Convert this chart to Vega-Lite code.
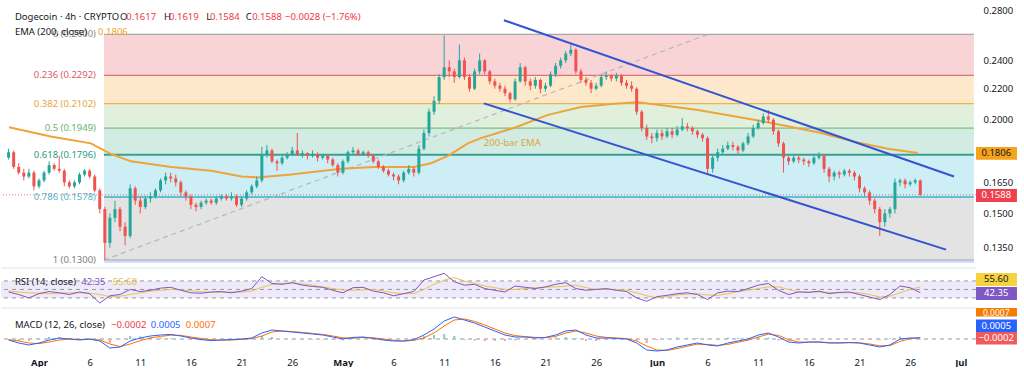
{
"$schema":"https://vega.github.io/schema/vega-lite/v6.json",
"padding":0,
"background":"#ffffff",
"spacing":2,
"config":{"font":"Noto Sans","view":{"stroke":null},"axis":{"grid":false,"domain":false,"ticks":false},"text":{"fontSize":9.5,"baseline":"middle","align":"left"}},
"datasets":{
"fib":[{"k":"0","p":0.26,"q":0.2292,"lab":"0 (0.2600)"},{"k":"0.236","p":0.2292,"q":0.2102,"lab":"0.236 (0.2292)"},{"k":"0.382","p":0.2102,"q":0.1949,"lab":"0.382 (0.2102)"},{"k":"0.5","p":0.1949,"q":0.1796,"lab":"0.5 (0.1949)"},{"k":"0.618","p":0.1796,"q":0.1578,"lab":"0.618 (0.1796)"},{"k":"0.786","p":0.1578,"q":0.13,"lab":"0.786 (0.1578)"},{"k":"1","p":0.13,"q":0.1288,"lab":"1 (0.1300)"}],
"ema":[{"t":"2025-03-29T01:00Z","v":0.1954},{"t":"2025-04-02T04:00Z","v":0.190},{"t":"2025-04-06T03:00Z","v":0.186},{"t":"2025-04-08T03:00Z","v":0.180},{"t":"2025-04-10T02:00Z","v":0.176},{"t":"2025-04-14T01:00Z","v":0.173},{"t":"2025-04-18T00:00Z","v":0.171},{"t":"2025-04-21T00:00Z","v":0.168},{"t":"2025-04-22T15:00Z","v":0.1675},{"t":"2025-04-25T21:00Z","v":0.169},{"t":"2025-04-30T19:00Z","v":0.172},{"t":"2025-05-04T02:00Z","v":0.173},{"t":"2025-05-08T00:00Z","v":0.173},{"t":"2025-05-09T17:00Z","v":0.175},{"t":"2025-05-11T09:00Z","v":0.179},{"t":"2025-05-13T08:00Z","v":0.186},{"t":"2025-05-14T15:00Z","v":0.189},{"t":"2025-05-17T21:00Z","v":0.195},{"t":"2025-05-21T06:00Z","v":0.203},{"t":"2025-05-24T12:00Z","v":0.208},{"t":"2025-05-27T18:00Z","v":0.210},{"t":"2025-05-30T03:00Z","v":0.211},{"t":"2025-06-01T17:00Z","v":0.209},{"t":"2025-06-05T01:00Z","v":0.206},{"t":"2025-06-07T08:00Z","v":0.2035},{"t":"2025-06-10T14:00Z","v":0.200},{"t":"2025-06-13T22:00Z","v":0.196},{"t":"2025-06-17T05:00Z","v":0.192},{"t":"2025-06-20T11:00Z","v":0.187},{"t":"2025-06-23T19:00Z","v":0.183},{"t":"2025-06-26T18:00Z","v":0.1806}],
"candles":[
{"t":"2025-03-29T00:00Z","o":0.178,"h":0.183,"l":0.177,"c":0.181},
{"t":"2025-03-29T12:00Z","o":0.181,"h":0.182,"l":0.172,"c":0.173},
{"t":"2025-03-30T00:00Z","o":0.173,"h":0.175,"l":0.169,"c":0.170},
{"t":"2025-03-30T12:00Z","o":0.170,"h":0.172,"l":0.166,"c":0.168},
{"t":"2025-03-31T00:00Z","o":0.168,"h":0.172,"l":0.167,"c":0.170},
{"t":"2025-03-31T12:00Z","o":0.170,"h":0.171,"l":0.161,"c":0.163},
{"t":"2025-04-01T00:00Z","o":0.163,"h":0.167,"l":0.162,"c":0.166},
{"t":"2025-04-01T12:00Z","o":0.166,"h":0.171,"l":0.165,"c":0.170},
{"t":"2025-04-02T00:00Z","o":0.170,"h":0.176,"l":0.169,"c":0.174},
{"t":"2025-04-02T12:00Z","o":0.174,"h":0.175,"l":0.171,"c":0.172},
{"t":"2025-04-03T00:00Z","o":0.172,"h":0.179,"l":0.170,"c":0.171},
{"t":"2025-04-03T12:00Z","o":0.171,"h":0.172,"l":0.163,"c":0.165},
{"t":"2025-04-04T00:00Z","o":0.165,"h":0.166,"l":0.162,"c":0.163},
{"t":"2025-04-04T12:00Z","o":0.163,"h":0.166,"l":0.162,"c":0.165},
{"t":"2025-04-05T00:00Z","o":0.165,"h":0.170,"l":0.164,"c":0.169},
{"t":"2025-04-05T12:00Z","o":0.169,"h":0.172,"l":0.168,"c":0.171},
{"t":"2025-04-06T00:00Z","o":0.171,"h":0.172,"l":0.167,"c":0.168},
{"t":"2025-04-06T12:00Z","o":0.168,"h":0.169,"l":0.160,"c":0.161},
{"t":"2025-04-07T00:00Z","o":0.161,"h":0.162,"l":0.150,"c":0.152},
{"t":"2025-04-07T12:00Z","o":0.152,"h":0.153,"l":0.130,"c":0.137},
{"t":"2025-04-08T00:00Z","o":0.137,"h":0.150,"l":0.135,"c":0.148},
{"t":"2025-04-08T12:00Z","o":0.148,"h":0.156,"l":0.146,"c":0.152},
{"t":"2025-04-09T00:00Z","o":0.152,"h":0.153,"l":0.142,"c":0.144},
{"t":"2025-04-09T12:00Z","o":0.144,"h":0.146,"l":0.136,"c":0.140},
{"t":"2025-04-10T00:00Z","o":0.140,"h":0.164,"l":0.139,"c":0.162},
{"t":"2025-04-10T12:00Z","o":0.162,"h":0.163,"l":0.154,"c":0.156},
{"t":"2025-04-11T00:00Z","o":0.156,"h":0.158,"l":0.150,"c":0.153},
{"t":"2025-04-11T12:00Z","o":0.153,"h":0.158,"l":0.152,"c":0.157},
{"t":"2025-04-12T00:00Z","o":0.157,"h":0.160,"l":0.155,"c":0.158},
{"t":"2025-04-12T12:00Z","o":0.158,"h":0.162,"l":0.157,"c":0.161},
{"t":"2025-04-13T00:00Z","o":0.161,"h":0.167,"l":0.160,"c":0.166},
{"t":"2025-04-13T12:00Z","o":0.166,"h":0.170,"l":0.164,"c":0.168},
{"t":"2025-04-14T00:00Z","o":0.168,"h":0.170,"l":0.165,"c":0.167},
{"t":"2025-04-14T12:00Z","o":0.167,"h":0.169,"l":0.163,"c":0.165},
{"t":"2025-04-15T00:00Z","o":0.165,"h":0.166,"l":0.158,"c":0.160},
{"t":"2025-04-15T12:00Z","o":0.160,"h":0.161,"l":0.156,"c":0.158},
{"t":"2025-04-16T00:00Z","o":0.158,"h":0.159,"l":0.152,"c":0.154},
{"t":"2025-04-16T12:00Z","o":0.154,"h":0.155,"l":0.151,"c":0.153},
{"t":"2025-04-17T00:00Z","o":0.153,"h":0.156,"l":0.152,"c":0.155},
{"t":"2025-04-17T12:00Z","o":0.155,"h":0.157,"l":0.154,"c":0.156},
{"t":"2025-04-18T00:00Z","o":0.156,"h":0.157,"l":0.154,"c":0.155},
{"t":"2025-04-18T12:00Z","o":0.155,"h":0.158,"l":0.154,"c":0.157},
{"t":"2025-04-19T00:00Z","o":0.157,"h":0.159,"l":0.156,"c":0.158},
{"t":"2025-04-19T12:00Z","o":0.158,"h":0.159,"l":0.156,"c":0.157},
{"t":"2025-04-20T00:00Z","o":0.157,"h":0.160,"l":0.156,"c":0.158},
{"t":"2025-04-20T12:00Z","o":0.158,"h":0.159,"l":0.153,"c":0.154},
{"t":"2025-04-21T00:00Z","o":0.154,"h":0.158,"l":0.153,"c":0.157},
{"t":"2025-04-21T12:00Z","o":0.157,"h":0.161,"l":0.156,"c":0.160},
{"t":"2025-04-22T00:00Z","o":0.160,"h":0.164,"l":0.159,"c":0.163},
{"t":"2025-04-22T12:00Z","o":0.163,"h":0.168,"l":0.162,"c":0.166},
{"t":"2025-04-23T00:00Z","o":0.166,"h":0.184,"l":0.165,"c":0.180},
{"t":"2025-04-23T12:00Z","o":0.180,"h":0.185,"l":0.178,"c":0.182},
{"t":"2025-04-24T00:00Z","o":0.182,"h":0.183,"l":0.175,"c":0.176},
{"t":"2025-04-24T12:00Z","o":0.176,"h":0.177,"l":0.171,"c":0.175},
{"t":"2025-04-25T00:00Z","o":0.175,"h":0.179,"l":0.174,"c":0.178},
{"t":"2025-04-25T12:00Z","o":0.178,"h":0.181,"l":0.177,"c":0.180},
{"t":"2025-04-26T00:00Z","o":0.180,"h":0.184,"l":0.179,"c":0.182},
{"t":"2025-04-26T12:00Z","o":0.182,"h":0.192,"l":0.179,"c":0.180},
{"t":"2025-04-27T00:00Z","o":0.180,"h":0.182,"l":0.178,"c":0.1805},
{"t":"2025-04-27T12:00Z","o":0.1805,"h":0.181,"l":0.177,"c":0.179},
{"t":"2025-04-28T00:00Z","o":0.179,"h":0.182,"l":0.178,"c":0.180},
{"t":"2025-04-28T12:00Z","o":0.180,"h":0.181,"l":0.176,"c":0.178},
{"t":"2025-04-29T00:00Z","o":0.178,"h":0.180,"l":0.177,"c":0.179},
{"t":"2025-04-29T12:00Z","o":0.179,"h":0.180,"l":0.175,"c":0.177},
{"t":"2025-04-30T00:00Z","o":0.177,"h":0.178,"l":0.173,"c":0.174},
{"t":"2025-04-30T12:00Z","o":0.174,"h":0.175,"l":0.168,"c":0.170},
{"t":"2025-05-01T00:00Z","o":0.170,"h":0.177,"l":0.169,"c":0.176},
{"t":"2025-05-01T12:00Z","o":0.176,"h":0.182,"l":0.175,"c":0.181},
{"t":"2025-05-02T00:00Z","o":0.181,"h":0.184,"l":0.180,"c":0.182},
{"t":"2025-05-02T12:00Z","o":0.182,"h":0.183,"l":0.179,"c":0.180},
{"t":"2025-05-03T00:00Z","o":0.180,"h":0.182,"l":0.179,"c":0.181},
{"t":"2025-05-03T12:00Z","o":0.181,"h":0.182,"l":0.178,"c":0.179},
{"t":"2025-05-04T00:00Z","o":0.179,"h":0.180,"l":0.175,"c":0.176},
{"t":"2025-05-04T12:00Z","o":0.176,"h":0.177,"l":0.172,"c":0.173},
{"t":"2025-05-05T00:00Z","o":0.173,"h":0.174,"l":0.170,"c":0.171},
{"t":"2025-05-05T12:00Z","o":0.171,"h":0.172,"l":0.168,"c":0.169},
{"t":"2025-05-06T00:00Z","o":0.169,"h":0.170,"l":0.166,"c":0.168},
{"t":"2025-05-06T12:00Z","o":0.168,"h":0.169,"l":0.164,"c":0.166},
{"t":"2025-05-07T00:00Z","o":0.166,"h":0.171,"l":0.165,"c":0.170},
{"t":"2025-05-07T12:00Z","o":0.170,"h":0.174,"l":0.169,"c":0.172},
{"t":"2025-05-08T00:00Z","o":0.172,"h":0.173,"l":0.168,"c":0.170},
{"t":"2025-05-08T12:00Z","o":0.170,"h":0.185,"l":0.169,"c":0.183},
{"t":"2025-05-09T00:00Z","o":0.183,"h":0.194,"l":0.182,"c":0.192},
{"t":"2025-05-09T12:00Z","o":0.192,"h":0.207,"l":0.190,"c":0.205},
{"t":"2025-05-10T00:00Z","o":0.205,"h":0.215,"l":0.203,"c":0.212},
{"t":"2025-05-10T12:00Z","o":0.212,"h":0.230,"l":0.210,"c":0.228},
{"t":"2025-05-11T00:00Z","o":0.228,"h":0.259,"l":0.226,"c":0.235},
{"t":"2025-05-11T12:00Z","o":0.235,"h":0.240,"l":0.228,"c":0.232},
{"t":"2025-05-12T00:00Z","o":0.232,"h":0.234,"l":0.224,"c":0.228},
{"t":"2025-05-12T12:00Z","o":0.228,"h":0.252,"l":0.227,"c":0.240},
{"t":"2025-05-13T00:00Z","o":0.240,"h":0.242,"l":0.226,"c":0.228},
{"t":"2025-05-13T12:00Z","o":0.228,"h":0.230,"l":0.218,"c":0.220},
{"t":"2025-05-14T00:00Z","o":0.220,"h":0.234,"l":0.219,"c":0.232},
{"t":"2025-05-14T12:00Z","o":0.232,"h":0.245,"l":0.230,"c":0.240},
{"t":"2025-05-15T00:00Z","o":0.240,"h":0.241,"l":0.230,"c":0.232},
{"t":"2025-05-15T12:00Z","o":0.232,"h":0.233,"l":0.223,"c":0.225},
{"t":"2025-05-16T00:00Z","o":0.225,"h":0.227,"l":0.220,"c":0.222},
{"t":"2025-05-16T12:00Z","o":0.222,"h":0.224,"l":0.218,"c":0.220},
{"t":"2025-05-17T00:00Z","o":0.220,"h":0.222,"l":0.215,"c":0.217},
{"t":"2025-05-17T12:00Z","o":0.217,"h":0.218,"l":0.211,"c":0.213},
{"t":"2025-05-18T00:00Z","o":0.213,"h":0.227,"l":0.212,"c":0.225},
{"t":"2025-05-18T12:00Z","o":0.225,"h":0.238,"l":0.224,"c":0.235},
{"t":"2025-05-19T00:00Z","o":0.235,"h":0.236,"l":0.222,"c":0.225},
{"t":"2025-05-19T12:00Z","o":0.225,"h":0.227,"l":0.219,"c":0.222},
{"t":"2025-05-20T00:00Z","o":0.222,"h":0.228,"l":0.220,"c":0.226},
{"t":"2025-05-20T12:00Z","o":0.226,"h":0.227,"l":0.217,"c":0.220},
{"t":"2025-05-21T00:00Z","o":0.220,"h":0.224,"l":0.218,"c":0.222},
{"t":"2025-05-21T12:00Z","o":0.222,"h":0.232,"l":0.221,"c":0.230},
{"t":"2025-05-22T00:00Z","o":0.230,"h":0.238,"l":0.228,"c":0.236},
{"t":"2025-05-22T12:00Z","o":0.236,"h":0.242,"l":0.234,"c":0.240},
{"t":"2025-05-23T00:00Z","o":0.240,"h":0.247,"l":0.238,"c":0.245},
{"t":"2025-05-23T12:00Z","o":0.245,"h":0.252,"l":0.243,"c":0.248},
{"t":"2025-05-24T00:00Z","o":0.248,"h":0.249,"l":0.230,"c":0.232},
{"t":"2025-05-24T12:00Z","o":0.232,"h":0.234,"l":0.224,"c":0.226},
{"t":"2025-05-25T00:00Z","o":0.226,"h":0.228,"l":0.222,"c":0.224},
{"t":"2025-05-25T12:00Z","o":0.224,"h":0.226,"l":0.217,"c":0.220},
{"t":"2025-05-26T00:00Z","o":0.220,"h":0.224,"l":0.219,"c":0.222},
{"t":"2025-05-26T12:00Z","o":0.222,"h":0.230,"l":0.221,"c":0.228},
{"t":"2025-05-27T00:00Z","o":0.228,"h":0.232,"l":0.226,"c":0.229},
{"t":"2025-05-27T12:00Z","o":0.229,"h":0.230,"l":0.225,"c":0.227},
{"t":"2025-05-28T00:00Z","o":0.227,"h":0.231,"l":0.225,"c":0.229},
{"t":"2025-05-28T12:00Z","o":0.229,"h":0.230,"l":0.222,"c":0.224},
{"t":"2025-05-29T00:00Z","o":0.224,"h":0.226,"l":0.220,"c":0.222},
{"t":"2025-05-29T12:00Z","o":0.222,"h":0.225,"l":0.218,"c":0.220},
{"t":"2025-05-30T00:00Z","o":0.220,"h":0.221,"l":0.203,"c":0.205},
{"t":"2025-05-30T12:00Z","o":0.205,"h":0.206,"l":0.193,"c":0.195},
{"t":"2025-05-31T00:00Z","o":0.195,"h":0.197,"l":0.188,"c":0.190},
{"t":"2025-05-31T12:00Z","o":0.190,"h":0.192,"l":0.186,"c":0.189},
{"t":"2025-06-01T00:00Z","o":0.189,"h":0.194,"l":0.187,"c":0.192},
{"t":"2025-06-01T12:00Z","o":0.192,"h":0.194,"l":0.188,"c":0.190},
{"t":"2025-06-02T00:00Z","o":0.190,"h":0.195,"l":0.189,"c":0.193},
{"t":"2025-06-02T12:00Z","o":0.193,"h":0.195,"l":0.189,"c":0.191},
{"t":"2025-06-03T00:00Z","o":0.191,"h":0.196,"l":0.190,"c":0.194},
{"t":"2025-06-03T12:00Z","o":0.194,"h":0.201,"l":0.193,"c":0.196},
{"t":"2025-06-04T00:00Z","o":0.196,"h":0.198,"l":0.193,"c":0.195},
{"t":"2025-06-04T12:00Z","o":0.195,"h":0.196,"l":0.191,"c":0.193},
{"t":"2025-06-05T00:00Z","o":0.193,"h":0.194,"l":0.189,"c":0.191},
{"t":"2025-06-05T12:00Z","o":0.191,"h":0.192,"l":0.187,"c":0.189},
{"t":"2025-06-06T00:00Z","o":0.189,"h":0.190,"l":0.169,"c":0.172},
{"t":"2025-06-06T12:00Z","o":0.172,"h":0.179,"l":0.170,"c":0.178},
{"t":"2025-06-07T00:00Z","o":0.178,"h":0.183,"l":0.176,"c":0.181},
{"t":"2025-06-07T12:00Z","o":0.181,"h":0.185,"l":0.180,"c":0.183},
{"t":"2025-06-08T00:00Z","o":0.183,"h":0.187,"l":0.182,"c":0.185},
{"t":"2025-06-08T12:00Z","o":0.185,"h":0.187,"l":0.182,"c":0.184},
{"t":"2025-06-09T00:00Z","o":0.184,"h":0.185,"l":0.180,"c":0.182},
{"t":"2025-06-09T12:00Z","o":0.182,"h":0.187,"l":0.181,"c":0.186},
{"t":"2025-06-10T00:00Z","o":0.186,"h":0.192,"l":0.185,"c":0.190},
{"t":"2025-06-10T12:00Z","o":0.190,"h":0.197,"l":0.189,"c":0.195},
{"t":"2025-06-11T00:00Z","o":0.195,"h":0.200,"l":0.194,"c":0.198},
{"t":"2025-06-11T12:00Z","o":0.198,"h":0.204,"l":0.197,"c":0.202},
{"t":"2025-06-12T00:00Z","o":0.202,"h":0.206,"l":0.198,"c":0.200},
{"t":"2025-06-12T12:00Z","o":0.200,"h":0.201,"l":0.191,"c":0.193},
{"t":"2025-06-13T00:00Z","o":0.193,"h":0.194,"l":0.184,"c":0.186},
{"t":"2025-06-13T12:00Z","o":0.186,"h":0.187,"l":0.170,"c":0.178},
{"t":"2025-06-14T00:00Z","o":0.178,"h":0.179,"l":0.174,"c":0.176},
{"t":"2025-06-14T12:00Z","o":0.176,"h":0.180,"l":0.175,"c":0.178},
{"t":"2025-06-15T00:00Z","o":0.178,"h":0.179,"l":0.175,"c":0.177},
{"t":"2025-06-15T12:00Z","o":0.177,"h":0.178,"l":0.174,"c":0.176},
{"t":"2025-06-16T00:00Z","o":0.176,"h":0.177,"l":0.173,"c":0.175},
{"t":"2025-06-16T12:00Z","o":0.175,"h":0.179,"l":0.174,"c":0.178},
{"t":"2025-06-17T00:00Z","o":0.178,"h":0.181,"l":0.177,"c":0.179},
{"t":"2025-06-17T12:00Z","o":0.179,"h":0.180,"l":0.170,"c":0.172},
{"t":"2025-06-18T00:00Z","o":0.172,"h":0.173,"l":0.165,"c":0.168},
{"t":"2025-06-18T12:00Z","o":0.168,"h":0.171,"l":0.166,"c":0.170},
{"t":"2025-06-19T00:00Z","o":0.170,"h":0.171,"l":0.167,"c":0.169},
{"t":"2025-06-19T12:00Z","o":0.169,"h":0.172,"l":0.168,"c":0.171},
{"t":"2025-06-20T00:00Z","o":0.171,"h":0.172,"l":0.168,"c":0.170},
{"t":"2025-06-20T12:00Z","o":0.170,"h":0.171,"l":0.166,"c":0.168},
{"t":"2025-06-21T00:00Z","o":0.168,"h":0.169,"l":0.160,"c":0.162},
{"t":"2025-06-21T12:00Z","o":0.162,"h":0.163,"l":0.158,"c":0.160},
{"t":"2025-06-22T00:00Z","o":0.160,"h":0.161,"l":0.154,"c":0.156},
{"t":"2025-06-22T12:00Z","o":0.156,"h":0.157,"l":0.150,"c":0.152},
{"t":"2025-06-23T00:00Z","o":0.152,"h":0.153,"l":0.140,"c":0.146},
{"t":"2025-06-23T12:00Z","o":0.146,"h":0.152,"l":0.144,"c":0.150},
{"t":"2025-06-24T00:00Z","o":0.150,"h":0.153,"l":0.148,"c":0.152},
{"t":"2025-06-24T12:00Z","o":0.152,"h":0.167,"l":0.150,"c":0.165},
{"t":"2025-06-25T00:00Z","o":0.165,"h":0.167,"l":0.163,"c":0.166},
{"t":"2025-06-25T12:00Z","o":0.166,"h":0.167,"l":0.162,"c":0.164},
{"t":"2025-06-26T00:00Z","o":0.164,"h":0.166,"l":0.163,"c":0.165},
{"t":"2025-06-26T12:00Z","o":0.165,"h":0.167,"l":0.164,"c":0.166},
{"t":"2025-06-27T00:00Z","o":0.166,"h":0.1665,"l":0.1584,"c":0.1588}],
"ind":[
{"t":"2025-03-29T00:00Z","r":44,"ra":46,"m":-0.0005,"s":-0.0003,"h":-0.0002},
{"t":"2025-03-30T00:00Z","r":38,"ra":44,"m":-0.002,"s":-0.001,"h":-0.001},
{"t":"2025-03-31T00:00Z","r":30,"ra":42,"m":-0.003,"s":-0.002,"h":-0.001},
{"t":"2025-04-01T00:00Z","r":40,"ra":41,"m":-0.002,"s":-0.0023,"h":0.0003},
{"t":"2025-04-02T00:00Z","r":45,"ra":40,"m":-0.0005,"s":-0.0015,"h":0.001},
{"t":"2025-04-03T00:00Z","r":42,"ra":41,"m":0.0005,"s":-0.0005,"h":0.001},
{"t":"2025-04-04T00:00Z","r":38,"ra":42,"m":0,"s":0,"h":0},
{"t":"2025-04-05T00:00Z","r":44,"ra":42,"m":-0.0005,"s":-0.0002,"h":-0.0003},
{"t":"2025-04-06T00:00Z","r":40,"ra":41,"m":0,"s":-0.0002,"h":0.0002},
{"t":"2025-04-07T00:00Z","r":18,"ra":38,"m":-0.001,"s":-0.0005,"h":-0.0005},
{"t":"2025-04-08T00:00Z","r":35,"ra":33,"m":-0.0045,"s":-0.0025,"h":-0.002},
{"t":"2025-04-09T00:00Z","r":38,"ra":34,"m":-0.004,"s":-0.0038,"h":-0.0002},
{"t":"2025-04-10T00:00Z","r":50,"ra":38,"m":-0.001,"s":-0.0025,"h":0.0015},
{"t":"2025-04-11T00:00Z","r":45,"ra":42,"m":0.0005,"s":-0.0008,"h":0.0013},
{"t":"2025-04-12T00:00Z","r":48,"ra":46,"m":0.0015,"s":0.0005,"h":0.001},
{"t":"2025-04-13T00:00Z","r":53,"ra":48,"m":0.002,"s":0.0013,"h":0.0007},
{"t":"2025-04-14T00:00Z","r":55,"ra":50,"m":0.0023,"s":0.0019,"h":0.0004},
{"t":"2025-04-15T00:00Z","r":48,"ra":49,"m":0.0015,"s":0.0018,"h":-0.0003},
{"t":"2025-04-16T00:00Z","r":42,"ra":47,"m":0.0005,"s":0.001,"h":-0.0005},
{"t":"2025-04-17T00:00Z","r":41,"ra":45,"m":-0.0003,"s":0.0003,"h":-0.0006},
{"t":"2025-04-18T00:00Z","r":44,"ra":43,"m":-0.0008,"s":-0.0004,"h":-0.0004},
{"t":"2025-04-19T00:00Z","r":45,"ra":43,"m":-0.0005,"s":-0.0006,"h":0.0001},
{"t":"2025-04-20T00:00Z","r":42,"ra":44,"m":-0.0003,"s":-0.0005,"h":0.0002},
{"t":"2025-04-21T00:00Z","r":46,"ra":44,"m":0,"s":-0.0002,"h":0.0002},
{"t":"2025-04-22T00:00Z","r":52,"ra":46,"m":0.0005,"s":0.0002,"h":0.0003},
{"t":"2025-04-23T00:00Z","r":80,"ra":55,"m":0.003,"s":0.0015,"h":0.0015},
{"t":"2025-04-24T00:00Z","r":64,"ra":62,"m":0.0045,"s":0.0035,"h":0.001},
{"t":"2025-04-25T00:00Z","r":62,"ra":64,"m":0.004,"s":0.004,"h":0},
{"t":"2025-04-26T00:00Z","r":66,"ra":65,"m":0.0035,"s":0.0037,"h":-0.0002},
{"t":"2025-04-27T00:00Z","r":60,"ra":63,"m":0.003,"s":0.0033,"h":-0.0003},
{"t":"2025-04-28T00:00Z","r":57,"ra":60,"m":0.0025,"s":0.0028,"h":-0.0003},
{"t":"2025-04-29T00:00Z","r":55,"ra":56,"m":0.002,"s":0.0023,"h":-0.0003},
{"t":"2025-04-30T00:00Z","r":48,"ra":52,"m":0.001,"s":0.0015,"h":-0.0005},
{"t":"2025-05-01T00:00Z","r":42,"ra":49,"m":0,"s":0.0006,"h":-0.0006},
{"t":"2025-05-02T00:00Z","r":54,"ra":48,"m":0.0008,"s":0.0004,"h":0.0004},
{"t":"2025-05-03T00:00Z","r":55,"ra":49,"m":0.001,"s":0.0008,"h":0.0002},
{"t":"2025-05-04T00:00Z","r":46,"ra":50,"m":0.0003,"s":0.0006,"h":-0.0003},
{"t":"2025-05-05T00:00Z","r":42,"ra":46,"m":-0.0005,"s":0,"h":-0.0005},
{"t":"2025-05-06T00:00Z","r":35,"ra":42,"m":-0.001,"s":-0.0007,"h":-0.0003},
{"t":"2025-05-07T00:00Z","r":40,"ra":40,"m":-0.001,"s":-0.001,"h":0},
{"t":"2025-05-08T00:00Z","r":45,"ra":40,"m":-0.0003,"s":-0.0007,"h":0.0004},
{"t":"2025-05-09T00:00Z","r":72,"ra":50,"m":0.002,"s":0.0006,"h":0.0014},
{"t":"2025-05-10T00:00Z","r":80,"ra":62,"m":0.005,"s":0.003,"h":0.002},
{"t":"2025-05-11T00:00Z","r":88,"ra":72,"m":0.009,"s":0.0065,"h":0.0025},
{"t":"2025-05-12T00:00Z","r":68,"ra":78,"m":0.011,"s":0.0095,"h":0.0015},
{"t":"2025-05-13T00:00Z","r":60,"ra":70,"m":0.0095,"s":0.01,"h":-0.0005},
{"t":"2025-05-14T00:00Z","r":62,"ra":64,"m":0.008,"s":0.0088,"h":-0.0008},
{"t":"2025-05-15T00:00Z","r":52,"ra":58,"m":0.006,"s":0.007,"h":-0.001},
{"t":"2025-05-16T00:00Z","r":48,"ra":54,"m":0.004,"s":0.005,"h":-0.001},
{"t":"2025-05-17T00:00Z","r":44,"ra":50,"m":0.002,"s":0.003,"h":-0.001},
{"t":"2025-05-18T00:00Z","r":58,"ra":50,"m":0.001,"s":0.0017,"h":-0.0007},
{"t":"2025-05-19T00:00Z","r":55,"ra":52,"m":0.001,"s":0.0012,"h":-0.0002},
{"t":"2025-05-20T00:00Z","r":52,"ra":54,"m":0.0005,"s":0.0008,"h":-0.0003},
{"t":"2025-05-21T00:00Z","r":56,"ra":55,"m":0.0008,"s":0.0007,"h":0.0001},
{"t":"2025-05-22T00:00Z","r":62,"ra":56,"m":0.002,"s":0.0013,"h":0.0007},
{"t":"2025-05-23T00:00Z","r":66,"ra":58,"m":0.004,"s":0.003,"h":0.001},
{"t":"2025-05-24T00:00Z","r":52,"ra":60,"m":0.0045,"s":0.004,"h":0.0005},
{"t":"2025-05-25T00:00Z","r":48,"ra":54,"m":0.002,"s":0.003,"h":-0.001},
{"t":"2025-05-26T00:00Z","r":50,"ra":50,"m":0.0005,"s":0.0015,"h":-0.001},
{"t":"2025-05-27T00:00Z","r":52,"ra":50,"m":0.0005,"s":0.0008,"h":-0.0003},
{"t":"2025-05-28T00:00Z","r":48,"ra":50,"m":0.0003,"s":0.0005,"h":-0.0002},
{"t":"2025-05-29T00:00Z","r":45,"ra":48,"m":0,"s":0.0002,"h":-0.0002},
{"t":"2025-05-30T00:00Z","r":30,"ra":42,"m":-0.002,"s":-0.001,"h":-0.001},
{"t":"2025-05-31T00:00Z","r":22,"ra":35,"m":-0.0055,"s":-0.0035,"h":-0.002},
{"t":"2025-06-01T00:00Z","r":33,"ra":30,"m":-0.006,"s":-0.0055,"h":-0.0005},
{"t":"2025-06-02T00:00Z","r":36,"ra":33,"m":-0.0055,"s":-0.0057,"h":0.0002},
{"t":"2025-06-03T00:00Z","r":40,"ra":37,"m":-0.004,"s":-0.0048,"h":0.0008},
{"t":"2025-06-04T00:00Z","r":42,"ra":39,"m":-0.003,"s":-0.0036,"h":0.0006},
{"t":"2025-06-05T00:00Z","r":38,"ra":40,"m":-0.002,"s":-0.0026,"h":0.0006},
{"t":"2025-06-06T00:00Z","r":26,"ra":37,"m":-0.003,"s":-0.0027,"h":-0.0003},
{"t":"2025-06-07T00:00Z","r":42,"ra":36,"m":-0.0035,"s":-0.0032,"h":-0.0003},
{"t":"2025-06-08T00:00Z","r":46,"ra":40,"m":-0.002,"s":-0.0027,"h":0.0007},
{"t":"2025-06-09T00:00Z","r":45,"ra":45,"m":-0.001,"s":-0.0016,"h":0.0006},
{"t":"2025-06-10T00:00Z","r":52,"ra":48,"m":0,"s":-0.0006,"h":0.0006},
{"t":"2025-06-11T00:00Z","r":60,"ra":52,"m":0.002,"s":0.001,"h":0.001},
{"t":"2025-06-12T00:00Z","r":64,"ra":56,"m":0.003,"s":0.0024,"h":0.0006},
{"t":"2025-06-13T00:00Z","r":48,"ra":56,"m":0.001,"s":0.0018,"h":-0.0008},
{"t":"2025-06-14T00:00Z","r":38,"ra":50,"m":-0.0015,"s":-0.0003,"h":-0.0012},
{"t":"2025-06-15T00:00Z","r":44,"ra":44,"m":-0.002,"s":-0.0015,"h":-0.0005},
{"t":"2025-06-16T00:00Z","r":43,"ra":44,"m":-0.0015,"s":-0.0016,"h":0.0001},
{"t":"2025-06-17T00:00Z","r":46,"ra":44,"m":-0.0015,"s":-0.0015,"h":0},
{"t":"2025-06-18T00:00Z","r":40,"ra":43,"m":-0.002,"s":-0.0018,"h":-0.0002},
{"t":"2025-06-19T00:00Z","r":43,"ra":42,"m":-0.002,"s":-0.0019,"h":-0.0001},
{"t":"2025-06-20T00:00Z","r":44,"ra":42,"m":-0.0018,"s":-0.0018,"h":0},
{"t":"2025-06-21T00:00Z","r":38,"ra":42,"m":-0.002,"s":-0.0019,"h":-0.0001},
{"t":"2025-06-22T00:00Z","r":32,"ra":38,"m":-0.003,"s":-0.0025,"h":-0.0005},
{"t":"2025-06-23T00:00Z","r":26,"ra":32,"m":-0.004,"s":-0.0034,"h":-0.0006},
{"t":"2025-06-24T00:00Z","r":38,"ra":34,"m":-0.003,"s":-0.0033,"h":0.0003},
{"t":"2025-06-25T00:00Z","r":58,"ra":42,"m":0,"s":-0.0012,"h":0.0012},
{"t":"2025-06-26T00:00Z","r":54,"ra":50,"m":0.0005,"s":0.0002,"h":0.0003},
{"t":"2025-06-27T00:00Z","r":42.35,"ra":55.6,"m":0.0005,"s":0.0007,"h":-0.0002}]
},
"vconcat":[
{"width":975,"height":263,"data":{"values":[{}]},
 "resolve":{"scale":{"color":"independent","fill":"independent","stroke":"independent"}},
 "layer":[
  {"data":{"name":"fib"},"mark":{"type":"rect"},"encoding":{
    "x":{"datum":{"year":2025,"month":4,"date":7,"hours":10,"utc":true},"type":"temporal","scale":{"type":"utc","domain":[{"year":2025,"month":3,"date":28,"hours":6,"utc":true},{"year":2025,"month":7,"date":2,"hours":12,"utc":true}],"nice":false},"axis":null},
    "x2":{"datum":{"year":2025,"month":7,"date":2,"hours":7,"utc":true}},
    "y":{"field":"p","type":"quantitative","title":null,"scale":{"type":"log","domain":[0.1288,0.2889],"nice":false},"axis":{"orient":"right","values":[0.28,0.24,0.22,0.2,0.165,0.15,0.135],"format":".4f","labelFontSize":9.5,"labelColor":"#131722","labelPadding":7}},
    "y2":{"field":"q"},
    "fill":{"field":"k","type":"nominal","legend":null,"scale":{"domain":["0","0.236","0.382","0.5","0.618","0.786","1"],"range":["#f8d4d7","#fde8cc","#e0f0dc","#d3ece3","#cdeef4","#e3e3e3","#d5ddf4"]}}}},
  {"data":{"name":"fib"},"mark":{"type":"rule"},"encoding":{
    "x":{"datum":{"year":2025,"month":4,"date":7,"hours":10,"utc":true},"type":"temporal","axis":null},
    "x2":{"datum":{"year":2025,"month":7,"date":2,"hours":7,"utc":true}},
    "y":{"field":"p","type":"quantitative","title":null},
    "stroke":{"field":"k","type":"nominal","legend":null,"scale":{"domain":["0","0.236","0.382","0.5","0.618","0.786","1"],"range":["#a8a8a8","#e0707c","#f0b24a","#7bbf7f","#3a9f8c","#5cc3d6","#9ea6c2"]}},
    "strokeWidth":{"condition":{"test":"datum.k=='0.618' || datum.k=='0.786'","value":2},"value":1.2}}},
  {"data":{"values":[{"t":"2025-04-07T10:00Z","p":0.13},{"t":"2025-06-06T01:00Z","p":0.26}]},"mark":{"type":"line","color":"#b8b8b8","strokeDash":[5,4],"strokeWidth":1.2},"encoding":{
    "x":{"field":"t","type":"temporal","axis":null},"y":{"field":"p","type":"quantitative","title":null}}},
  {"data":{"name":"fib"},"mark":{"type":"text","align":"right"},"encoding":{
    "x":{"datum":{"year":2025,"month":4,"date":6,"hours":15,"utc":true},"type":"temporal","axis":null},
    "y":{"field":"p","type":"quantitative","title":null},
    "text":{"field":"lab"},
    "color":{"field":"k","type":"nominal","legend":null,"scale":{"domain":["0","0.236","0.382","0.5","0.618","0.786","1"],"range":["#8a8a8a","#d95c6a","#e9a33a","#65b36a","#2c9a86","#46b9d0","#7d7d7d"]}}}},
  {"mark":{"type":"rule","color":"#f23645","opacity":0.7,"strokeDash":[1,2]},"encoding":{"y":{"datum":0.1588}}},
  {"data":{"name":"ema"},"mark":{"type":"line","color":"#eea43a","strokeWidth":2},"encoding":{
    "x":{"field":"t","type":"temporal","axis":null},"y":{"field":"v","type":"quantitative","title":null}}},
  {"data":{"name":"candles"},"mark":{"type":"rule","strokeWidth":1},"encoding":{
    "x":{"field":"t","type":"temporal","axis":null},
    "y":{"field":"l","type":"quantitative","title":null},"y2":{"field":"h"},
    "color":{"condition":{"test":"datum.c>=datum.o","value":"#26a69a"},"value":"#ef5350"}}},
  {"data":{"name":"candles"},"mark":{"type":"rule","strokeWidth":3},"encoding":{
    "x":{"field":"t","type":"temporal","axis":null},
    "y":{"field":"o","type":"quantitative","title":null},"y2":{"field":"c"},
    "color":{"condition":{"test":"datum.c>=datum.o","value":"#26a69a"},"value":"#ef5350"}}},
  {"data":{"values":[{"t":"2025-05-16T21:30Z","p":0.2715,"g":"u"},{"t":"2025-06-30T08:00Z","p":0.168,"g":"u"},{"t":"2025-05-14T22:00Z","p":0.2103,"g":"d"},{"t":"2025-06-29T13:00Z","p":0.1342,"g":"d"}]},"mark":{"type":"line","color":"#3454d1","strokeWidth":2},"encoding":{
    "x":{"field":"t","type":"temporal","axis":null},"y":{"field":"p","type":"quantitative","title":null},"detail":{"field":"g"}}},
  {"mark":{"type":"text","color":"#d9a441"},"encoding":{"x":{"datum":{"year":2025,"month":5,"date":14,"hours":22,"utc":true},"type":"temporal","axis":null},"y":{"datum":0.186},"text":{"value":"200-bar EMA"}}},
  {"mark":{"type":"text","color":"#131722"},"encoding":{"x":{"datum":{"year":2025,"month":3,"date":29,"hours":15,"utc":true},"type":"temporal","axis":null},"y":{"datum":0.274},"text":{"value":"Dogecoin · 4h · CRYPTO"}}},
  {"mark":{"type":"text","color":"#131722"},"encoding":{"x":{"datum":{"year":2025,"month":4,"date":9,"hours":0,"utc":true},"type":"temporal","axis":null},"y":{"datum":0.274},"text":{"value":"O"}}},
  {"mark":{"type":"text","color":"#f23645"},"encoding":{"x":{"datum":{"year":2025,"month":4,"date":9,"hours":15,"utc":true},"type":"temporal","axis":null},"y":{"datum":0.274},"text":{"value":"0.1617"}}},
  {"mark":{"type":"text","color":"#131722"},"encoding":{"x":{"datum":{"year":2025,"month":4,"date":13,"hours":8,"utc":true},"type":"temporal","axis":null},"y":{"datum":0.274},"text":{"value":"H"}}},
  {"mark":{"type":"text","color":"#f23645"},"encoding":{"x":{"datum":{"year":2025,"month":4,"date":13,"hours":20,"utc":true},"type":"temporal","axis":null},"y":{"datum":0.274},"text":{"value":"0.1619"}}},
  {"mark":{"type":"text","color":"#131722"},"encoding":{"x":{"datum":{"year":2025,"month":4,"date":17,"hours":12,"utc":true},"type":"temporal","axis":null},"y":{"datum":0.274},"text":{"value":"L"}}},
  {"mark":{"type":"text","color":"#f23645"},"encoding":{"x":{"datum":{"year":2025,"month":4,"date":17,"hours":21,"utc":true},"type":"temporal","axis":null},"y":{"datum":0.274},"text":{"value":"0.1584"}}},
  {"mark":{"type":"text","color":"#131722"},"encoding":{"x":{"datum":{"year":2025,"month":4,"date":21,"hours":10,"utc":true},"type":"temporal","axis":null},"y":{"datum":0.274},"text":{"value":"C"}}},
  {"mark":{"type":"text","color":"#f23645"},"encoding":{"x":{"datum":{"year":2025,"month":4,"date":22,"hours":1,"utc":true},"type":"temporal","axis":null},"y":{"datum":0.274},"text":{"value":"0.1588"}}},
  {"mark":{"type":"text","color":"#f23645"},"encoding":{"x":{"datum":{"year":2025,"month":4,"date":25,"hours":7,"utc":true},"type":"temporal","axis":null},"y":{"datum":0.274},"text":{"value":"−0.0028 (−1.76%)"}}},
  {"mark":{"type":"text","color":"#131722"},"encoding":{"x":{"datum":{"year":2025,"month":3,"date":29,"hours":15,"utc":true},"type":"temporal","axis":null},"y":{"datum":0.2617},"text":{"value":"EMA (200, close)"}}},
  {"mark":{"type":"text","color":"#f5a21e"},"encoding":{"x":{"datum":{"year":2025,"month":4,"date":6,"hours":20,"utc":true},"type":"temporal","axis":null},"y":{"datum":0.2617},"text":{"value":"0.1806"}}},
  {"mark":{"type":"rect","color":"#f7a21b"},"encoding":{"x":{"datum":{"year":2025,"month":7,"date":2,"hours":12,"utc":true},"type":"temporal","axis":null},"x2":{"datum":{"year":2025,"month":7,"date":6,"hours":13,"utc":true}},"y":{"datum":0.184},"y2":{"datum":0.1768}}},
  {"mark":{"type":"text","align":"center","color":"#131722"},"encoding":{"x":{"datum":{"year":2025,"month":7,"date":4,"hours":12,"utc":true},"type":"temporal","axis":null},"y":{"datum":0.1803},"text":{"value":"0.1806"}}},
  {"mark":{"type":"rect","color":"#f0404f"},"encoding":{"x":{"datum":{"year":2025,"month":7,"date":2,"hours":12,"utc":true},"type":"temporal","axis":null},"x2":{"datum":{"year":2025,"month":7,"date":6,"hours":13,"utc":true}},"y":{"datum":0.1617},"y2":{"datum":0.1553}}},
  {"mark":{"type":"text","align":"center","color":"#ffffff"},"encoding":{"x":{"datum":{"year":2025,"month":7,"date":4,"hours":12,"utc":true},"type":"temporal","axis":null},"y":{"datum":0.1586},"text":{"value":"0.1588"}}}
 ]},
{"width":975,"height":35,"data":{"values":[{}]},
 "layer":[
  {"mark":{"type":"rect","color":"#efeafa"},"encoding":{
    "x":{"datum":{"year":2025,"month":3,"date":28,"hours":6,"utc":true},"type":"temporal","scale":{"type":"utc","domain":[{"year":2025,"month":3,"date":28,"hours":6,"utc":true},{"year":2025,"month":7,"date":2,"hours":12,"utc":true}],"nice":false},"axis":null},
    "x2":{"datum":{"year":2025,"month":7,"date":2,"hours":12,"utc":true}},
    "y":{"datum":30,"type":"quantitative","scale":{"domain":[18,100.5],"nice":false,"zero":false},"axis":null},
    "y2":{"datum":70}}},
  {"mark":{"type":"rule","color":"#e0e3eb"},"encoding":{"y":{"datum":100.5,"type":"quantitative","axis":null}}},
  {"data":{"values":[{"v":70},{"v":50},{"v":30}]},"mark":{"type":"rule","color":"#9598a1","strokeDash":[4,4],"strokeWidth":1},"encoding":{"y":{"field":"v","type":"quantitative","axis":null}}},
  {"data":{"name":"ind"},"mark":{"type":"line","color":"#e8c547","strokeWidth":1},"encoding":{"x":{"field":"t","type":"temporal","axis":null},"y":{"field":"ra","type":"quantitative","axis":null}}},
  {"data":{"name":"ind"},"mark":{"type":"line","color":"#7e57c2","strokeWidth":1},"encoding":{"x":{"field":"t","type":"temporal","axis":null},"y":{"field":"r","type":"quantitative","axis":null}}},
  {"mark":{"type":"text","color":"#131722"},"encoding":{"x":{"datum":{"year":2025,"month":3,"date":29,"hours":15,"utc":true},"type":"temporal","axis":null},"y":{"datum":67.6,"axis":null},"text":{"value":"RSI (14, close)"}}},
  {"mark":{"type":"text","color":"#7e57c2"},"encoding":{"x":{"datum":{"year":2025,"month":4,"date":5,"hours":4,"utc":true},"type":"temporal","axis":null},"y":{"datum":67.6,"axis":null},"text":{"value":"42.35"}}},
  {"mark":{"type":"text","color":"#e8c233"},"encoding":{"x":{"datum":{"year":2025,"month":4,"date":8,"hours":7,"utc":true},"type":"temporal","axis":null},"y":{"datum":67.6,"axis":null},"text":{"value":"55.60"}}},
  {"mark":{"type":"rect","color":"#f6d23e"},"encoding":{"x":{"datum":{"year":2025,"month":7,"date":2,"hours":12,"utc":true},"type":"temporal","axis":null},"x2":{"datum":{"year":2025,"month":7,"date":6,"hours":13,"utc":true}},"y":{"datum":88.8,"axis":null},"y2":{"datum":58.2}}},
  {"mark":{"type":"text","align":"center","color":"#131722"},"encoding":{"x":{"datum":{"year":2025,"month":7,"date":4,"hours":12,"utc":true},"type":"temporal","axis":null},"y":{"datum":73.5,"axis":null},"text":{"value":"55.60"}}},
  {"mark":{"type":"rect","color":"#7e57c2"},"encoding":{"x":{"datum":{"year":2025,"month":7,"date":2,"hours":12,"utc":true},"type":"temporal","axis":null},"x2":{"datum":{"year":2025,"month":7,"date":6,"hours":13,"utc":true}},"y":{"datum":55.9,"axis":null},"y2":{"datum":25.3}}},
  {"mark":{"type":"text","align":"center","color":"#ffffff"},"encoding":{"x":{"datum":{"year":2025,"month":7,"date":4,"hours":12,"utc":true},"type":"temporal","axis":null},"y":{"datum":40.6,"axis":null},"text":{"value":"42.35"}}}
 ]},
{"width":975,"height":46,"data":{"values":[{}]},
 "layer":[
  {"mark":{"type":"rule","color":"#e0e3eb"},"encoding":{"y":{"datum":0.0155,"type":"quantitative","scale":{"domain":[-0.0075,0.0155],"nice":false,"zero":false},"axis":null}}},
  {"mark":{"type":"rule","color":"#9598a1","strokeDash":[4,4]},"encoding":{"y":{"datum":0,"type":"quantitative","axis":null}}},
  {"data":{"name":"ind"},"mark":{"type":"rule","strokeWidth":2},"encoding":{
    "x":{"field":"t","type":"temporal","title":null,"scale":{"type":"utc","domain":[{"year":2025,"month":3,"date":28,"hours":6,"utc":true},{"year":2025,"month":7,"date":2,"hours":12,"utc":true}],"nice":false},
      "axis":{"values":[{"year":2025,"month":4,"date":1,"utc":true},{"year":2025,"month":4,"date":6,"utc":true},{"year":2025,"month":4,"date":11,"utc":true},{"year":2025,"month":4,"date":16,"utc":true},{"year":2025,"month":4,"date":21,"utc":true},{"year":2025,"month":4,"date":26,"utc":true},{"year":2025,"month":5,"date":1,"utc":true},{"year":2025,"month":5,"date":6,"utc":true},{"year":2025,"month":5,"date":11,"utc":true},{"year":2025,"month":5,"date":16,"utc":true},{"year":2025,"month":5,"date":21,"utc":true},{"year":2025,"month":5,"date":26,"utc":true},{"year":2025,"month":6,"date":1,"utc":true},{"year":2025,"month":6,"date":6,"utc":true},{"year":2025,"month":6,"date":11,"utc":true},{"year":2025,"month":6,"date":16,"utc":true},{"year":2025,"month":6,"date":21,"utc":true},{"year":2025,"month":6,"date":26,"utc":true},{"year":2025,"month":7,"date":1,"utc":true}],
        "labelExpr":"utcdate(datum.value)==1 ? utcFormat(datum.value,'%b') : utcFormat(datum.value,'%-d')",
        "labelFontSize":9.5,"labelColor":"#131722","labelPadding":3,"labelFlush":false,"labelOverlap":false,
        "labelFontWeight":{"condition":{"test":"utcdate(datum.value)==1","value":"bold"},"value":"normal"}}},
    "y":{"field":"h","type":"quantitative","axis":null},"y2":{"datum":0},
    "color":{"condition":{"test":"datum.h>=0","value":"#80cbc4"},"value":"#f7a0a6"}}},
  {"data":{"name":"ind"},"mark":{"type":"line","color":"#ff6d00","strokeWidth":1},"encoding":{"x":{"field":"t","type":"temporal","title":null},"y":{"field":"s","type":"quantitative","axis":null}}},
  {"data":{"name":"ind"},"mark":{"type":"line","color":"#2962ff","strokeWidth":1},"encoding":{"x":{"field":"t","type":"temporal","title":null},"y":{"field":"m","type":"quantitative","axis":null}}},
  {"mark":{"type":"text","color":"#131722"},"encoding":{"x":{"datum":{"year":2025,"month":3,"date":29,"hours":15,"utc":true},"type":"temporal"},"y":{"datum":0.007,"axis":null},"text":{"value":"MACD (12, 26, close)"}}},
  {"mark":{"type":"text","color":"#f23645"},"encoding":{"x":{"datum":{"year":2025,"month":4,"date":8,"hours":3,"utc":true},"type":"temporal"},"y":{"datum":0.007,"axis":null},"text":{"value":"−0.0002"}}},
  {"mark":{"type":"text","color":"#2962ff"},"encoding":{"x":{"datum":{"year":2025,"month":4,"date":12,"hours":1,"utc":true},"type":"temporal"},"y":{"datum":0.007,"axis":null},"text":{"value":"0.0005"}}},
  {"mark":{"type":"text","color":"#ff6d00"},"encoding":{"x":{"datum":{"year":2025,"month":4,"date":15,"hours":12,"utc":true},"type":"temporal"},"y":{"datum":0.007,"axis":null},"text":{"value":"0.0007"}}},
  {"mark":{"type":"rect","color":"#f57c00"},"encoding":{"x":{"datum":{"year":2025,"month":7,"date":2,"hours":12,"utc":true},"type":"temporal"},"x2":{"datum":{"year":2025,"month":7,"date":6,"hours":13,"utc":true}},"y":{"datum":0.0155,"axis":null},"y2":{"datum":0.0113}}},
  {"mark":{"type":"text","align":"center","color":"#ffffff","fontSize":8.5},"encoding":{"x":{"datum":{"year":2025,"month":7,"date":4,"hours":12,"utc":true},"type":"temporal"},"y":{"datum":0.0132,"axis":null},"text":{"value":"0.0007"}}},
  {"mark":{"type":"rect","color":"#2962ff"},"encoding":{"x":{"datum":{"year":2025,"month":7,"date":2,"hours":12,"utc":true},"type":"temporal"},"x2":{"datum":{"year":2025,"month":7,"date":6,"hours":13,"utc":true}},"y":{"datum":0.0097,"axis":null},"y2":{"datum":0.0035}}},
  {"mark":{"type":"text","align":"center","color":"#ffffff"},"encoding":{"x":{"datum":{"year":2025,"month":7,"date":4,"hours":12,"utc":true},"type":"temporal"},"y":{"datum":0.0066,"axis":null},"text":{"value":"0.0005"}}},
  {"mark":{"type":"rect","color":"#f05a5a"},"encoding":{"x":{"datum":{"year":2025,"month":7,"date":2,"hours":12,"utc":true},"type":"temporal"},"x2":{"datum":{"year":2025,"month":7,"date":6,"hours":13,"utc":true}},"y":{"datum":0.0035,"axis":null},"y2":{"datum":-0.0028}}},
  {"mark":{"type":"text","align":"center","color":"#ffffff"},"encoding":{"x":{"datum":{"year":2025,"month":7,"date":4,"hours":12,"utc":true},"type":"temporal"},"y":{"datum":0.0004,"axis":null},"text":{"value":"−0.0002"}}}
 ]}
]
}
